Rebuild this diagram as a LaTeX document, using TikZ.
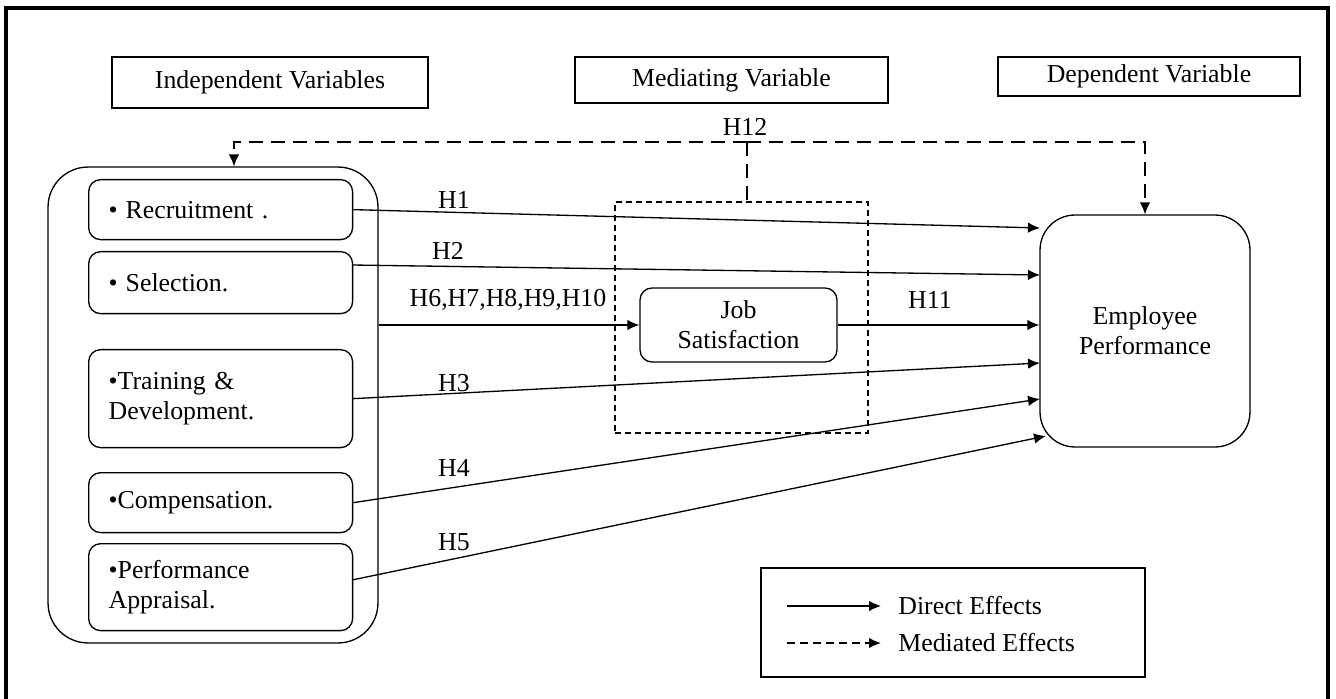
\documentclass[tikz,border=0pt]{standalone}
\usepackage{fontspec}
\setmainfont{Liberation Serif}
\usetikzlibrary{arrows.meta,calc}
\begin{document}
\begin{tikzpicture}[x=0.02cm,y=-0.02cm,
  font=\fontsize{14.7}{17}\selectfont,
  thin line/.style={line width=0.75pt},
  header/.style={draw,line width=1.5pt,inner sep=0pt},
  ivbox/.style={draw,thin line,rounded corners=0.24cm,anchor=north west,minimum width=5.28cm,
    text width=4.48cm,inner xsep=0.4cm,inner ysep=0pt,align=left},
  arr/.style={thin line,-{Latex[length=0.24cm,width=0.21cm]}},
  longdash/.style={thin line,dash pattern=on 0.28cm off 0.16cm},
  shortdash/.style={thin line,dash pattern=on 0.12cm off 0.08cm},
  lbl/.style={inner sep=0pt}]
\useasboundingbox[fill=white] (0,0) rectangle (1336,699);
% outer frame
\draw[line width=0.08cm] (6,760) -- (6,8) -- (1328,8) -- (1328,760);
% headers
\node[header,minimum width=6.32cm,minimum height=1.02cm] (hiv) at (270,82.5) {Independent Variables};
\node[header,minimum width=6.26cm,minimum height=0.92cm] (hmv) at (731.5,80) {Mediating Variable};
\node[header,minimum width=6.04cm,minimum height=0.78cm,text depth=0.1cm] (hdv) at (1149,76.5) {Dependent Variable};
% container
\node[draw,thin line,rounded corners=0.8cm,minimum width=6.6cm,minimum height=9.52cm,inner sep=0pt] (cont) at (213,405) {};
% inner boxes
\node[ivbox,minimum height=1.2cm] (rec) at (88,179) {\textbullet\hspace{0.16cm}Recruitment .};
\node[ivbox,minimum height=1.24cm] (sel) at (88,251) {\textbullet\hspace{0.16cm}Selection.};
\node[ivbox,minimum height=1.96cm] (tra) at (88,349) {\textbullet Training \&\\Development.};
\node[ivbox,minimum height=1.2cm] (com) at (88,472) {\textbullet Compensation.};
\node[ivbox,minimum height=1.74cm] (pa) at (88,543) {\textbullet Performance\\Appraisal.};
% mediator dashed frame
\node[draw,shortdash,minimum width=5.06cm,minimum height=4.62cm,inner sep=0pt] (med) at (741.5,317.5) {};
% job satisfaction
\node[draw,thin line,rounded corners=0.24cm,minimum width=3.94cm,minimum height=1.48cm,align=center,inner sep=0pt] (js) at (738.5,325) {Job\\Satisfaction};
% employee performance
\node[draw,thin line,rounded corners=0.7cm,minimum width=4.2cm,minimum height=4.64cm,align=center,inner sep=0pt] (ep) at (1145,331) {Employee\\Performance};
% arrow targets
\coordinate (t1) at (1040,228);
\coordinate (t2) at (1040,275);
\coordinate (t3) at (1040,363);
\coordinate (t4) at (1040,399);
\coordinate (t5) at (1046,436);
\coordinate (s2) at (352,265);
\coordinate (s5) at (352,580);
% direct arrows
\draw[arr] (rec.east) -- (t1);
\draw[arr] (s2) -- (t2);
\draw[arr] (tra.east) -- (t3);
\draw[arr] (com.east) -- (t4);
\draw[arr] (s5) -- (t5);
\draw[arr] (cont.east |- js.west) -- (js.west);
\draw[arr] (js.east) -- (ep.west |- js.east);
% labels
\node[lbl] (lh1) at (454,200) {H1};
\node[lbl] (lh2) at (448,251) {H2};
\node[lbl] (lh610) at (508,300) {H6,H7,H8,H9,H10};
\node[lbl] (lh11) at (930,300) {H11};
\node[lbl] (lh3) at (454,383) {H3};
\node[lbl] (lh4) at (454,468) {H4};
\node[lbl] (lh5) at (454,542) {H5};
% H12 mediated
\coordinate (h12) at (747,142);
\node[lbl] (lh12) at (745,127) {H12};
\draw[longdash] (h12) -- (h12 |- med.north);
\draw[longdash,-{Latex[length=0.24cm,width=0.21cm]}] (h12) -| (cont.north -| 234,0);
\draw[longdash,-{Latex[length=0.24cm,width=0.21cm]}] (h12) -| (ep.north);
% legend
\node[draw,thin line,minimum width=7.68cm,minimum height=2.18cm,inner sep=0pt] (leg) at (953,622.5) {};
\node[anchor=west,inner xsep=0.34cm,inner ysep=0pt] (ld) at (881,606) {Direct Effects};
\node[anchor=west,inner xsep=0.34cm,inner ysep=0pt] (lm) at (881,643) {Mediated Effects};
\coordinate (ls1) at (787,606);
\coordinate (ls2) at (787,643);
\draw[arr] (ls1) -- (ld.west);
\draw[thin line,dash pattern=on 0.16cm off 0.1cm,-{Latex[length=0.24cm,width=0.21cm]}] (ls2) -- (lm.west);
\end{tikzpicture}
\end{document}
